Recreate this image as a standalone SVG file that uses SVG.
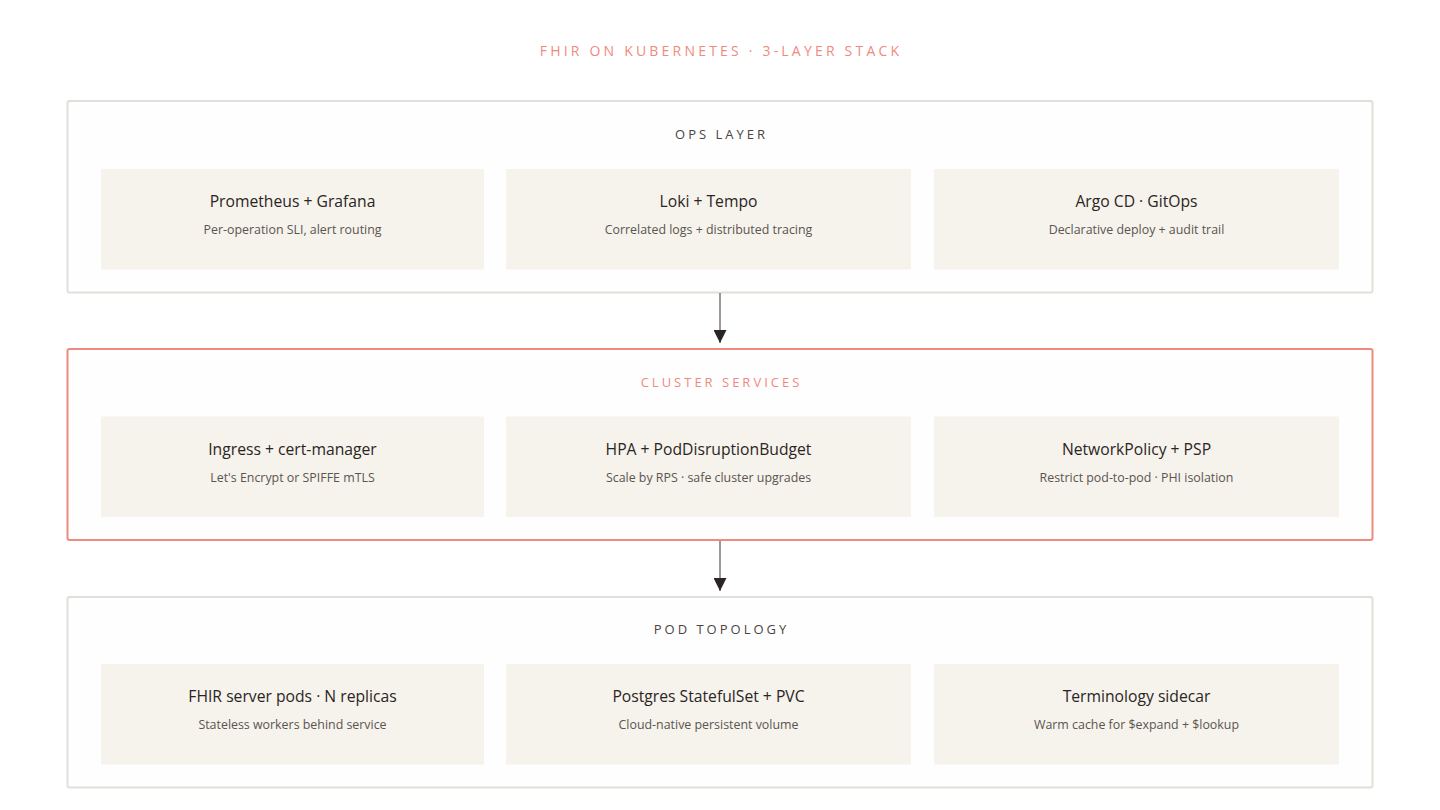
<svg xmlns="http://www.w3.org/2000/svg" width="1440" height="810" viewBox="0 0 1440 810">
<defs>
<style>
.layer{fill:#fefefe;stroke:#e2dfda;stroke-width:2}
.layer.hot{stroke:#ef8a80}
.node{fill:#f6f2ec}
.title{font-family:"Open Sans","Liberation Sans",sans-serif;font-size:14px;letter-spacing:3.2px;fill:#f08a80;text-anchor:middle}
.lh{font-family:"Open Sans","Liberation Sans",sans-serif;font-size:13px;letter-spacing:3px;fill:#4a4542;text-anchor:middle}
.lh.hot{fill:#f08a80}
.nt{font-family:"Open Sans","Liberation Sans",sans-serif;font-size:15.7px;fill:#2a2523;text-anchor:middle}
.ns{font-family:"Open Sans","Liberation Sans",sans-serif;font-size:12.4px;fill:#5a5550;text-anchor:middle}
.conn{stroke:#7a7674;stroke-width:1.5;fill:none}
</style>
<marker id="ah" markerWidth="13" markerHeight="13" viewBox="0 0 13 13" refX="13" refY="6.5" orient="auto" markerUnits="userSpaceOnUse">
<path d="M0,0 L13,6.5 L0,13 Z" fill="#2a2523"/>
</marker>
</defs>
<rect width="1440" height="810" fill="#ffffff"/>
<text class="title" x="721" y="56">FHIR ON KUBERNETES · 3-LAYER STACK</text>

<g id="layer-ops">
<rect class="layer" x="67.5" y="101" width="1305" height="191.5" rx="2"/>
<text class="lh" x="721.5" y="139">OPS LAYER</text>
</g>
<g id="node-prometheus">
<rect class="node" x="101" y="169" width="383" height="100.5" rx="1"/>
<text class="nt" x="292.5" y="207">Prometheus + Grafana</text>
<text class="ns" x="292.5" y="234">Per-operation SLI, alert routing</text>
</g>
<g id="node-loki">
<rect class="node" x="506" y="169" width="405" height="100.5" rx="1"/>
<text class="nt" x="708.5" y="207">Loki + Tempo</text>
<text class="ns" x="708.5" y="234">Correlated logs + distributed tracing</text>
</g>
<g id="node-argo">
<rect class="node" x="934" y="169" width="405" height="100.5" rx="1"/>
<text class="nt" x="1136.5" y="207">Argo CD · GitOps</text>
<text class="ns" x="1136.5" y="234">Declarative deploy + audit trail</text>
</g>

<g id="layer-cluster">
<rect class="layer hot" x="67.5" y="349" width="1305" height="191" rx="2"/>
<text class="lh hot" x="721.5" y="387">CLUSTER SERVICES</text>
</g>
<g id="node-ingress">
<rect class="node" x="101" y="416.5" width="383" height="100.5" rx="1"/>
<text class="nt" x="292.5" y="454.5">Ingress + cert-manager</text>
<text class="ns" x="292.5" y="481.5">Let's Encrypt or SPIFFE mTLS</text>
</g>
<g id="node-hpa">
<rect class="node" x="506" y="416.5" width="405" height="100.5" rx="1"/>
<text class="nt" x="708.5" y="454.5">HPA + PodDisruptionBudget</text>
<text class="ns" x="708.5" y="481.5">Scale by RPS · safe cluster upgrades</text>
</g>
<g id="node-netpol">
<rect class="node" x="934" y="416.5" width="405" height="100.5" rx="1"/>
<text class="nt" x="1136.5" y="454.5">NetworkPolicy + PSP</text>
<text class="ns" x="1136.5" y="481.5">Restrict pod-to-pod · PHI isolation</text>
</g>

<g id="layer-pod">
<rect class="layer" x="67.5" y="597" width="1305" height="190.5" rx="2"/>
<text class="lh" x="721.5" y="634">POD TOPOLOGY</text>
</g>
<g id="node-fhir">
<rect class="node" x="101" y="664" width="383" height="100.5" rx="1"/>
<text class="nt" x="292.5" y="702">FHIR server pods · N replicas</text>
<text class="ns" x="292.5" y="729">Stateless workers behind service</text>
</g>
<g id="node-postgres">
<rect class="node" x="506" y="664" width="405" height="100.5" rx="1"/>
<text class="nt" x="708.5" y="702">Postgres StatefulSet + PVC</text>
<text class="ns" x="708.5" y="729">Cloud-native persistent volume</text>
</g>
<g id="node-terminology">
<rect class="node" x="934" y="664" width="405" height="100.5" rx="1"/>
<text class="nt" x="1136.5" y="702">Terminology sidecar</text>
<text class="ns" x="1136.5" y="729">Warm cache for $expand + $lookup</text>
</g>

<g id="connectors">
<line class="conn" x1="720" y1="293" x2="720" y2="343" marker-end="url(#ah)"/>
<line class="conn" x1="720" y1="541" x2="720" y2="591" marker-end="url(#ah)"/>
</g>
</svg>
